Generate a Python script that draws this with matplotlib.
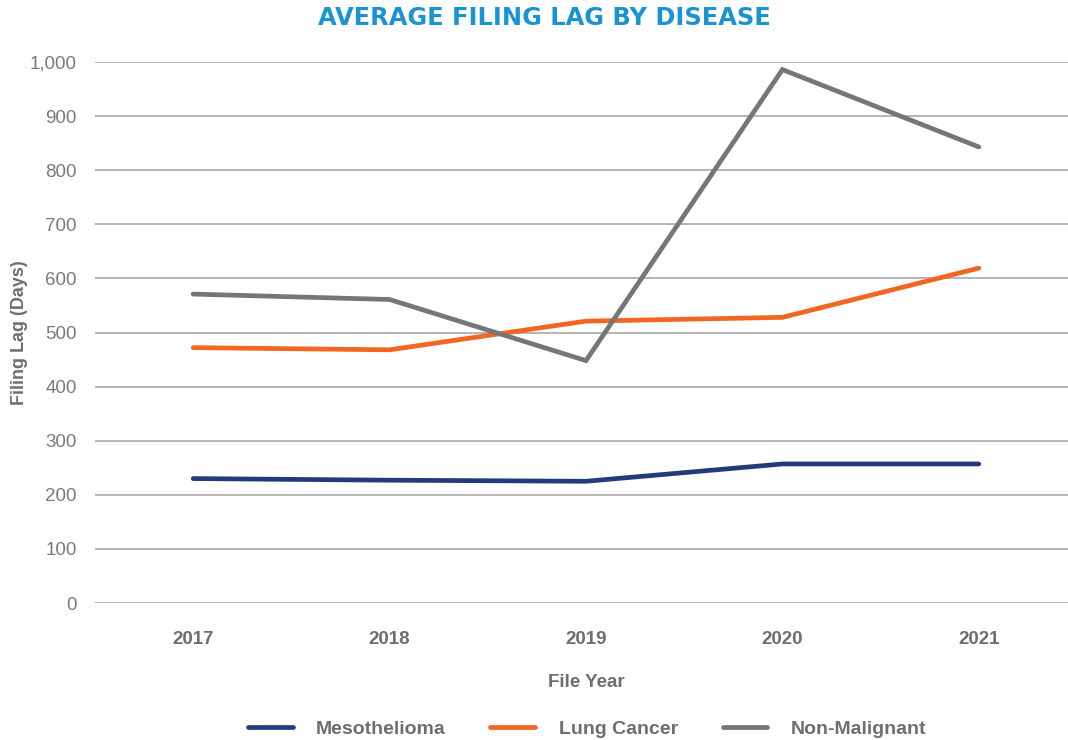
#!/usr/bin/env python3

import matplotlib
matplotlib.use("Agg")
import matplotlib.pyplot as plt
from matplotlib.ticker import FuncFormatter

plt.rc("font", family=["Liberation Sans", "DejaVu Sans"])

# Data
years = ["2017", "2018", "2019", "2020", "2021"]
mesothelioma = [230, 227, 225, 257, 257]
lung_cancer = [472, 468, 521, 528, 619]
non_malignant = [571, 561, 448, 986, 843]

series = [
	("Mesothelioma", mesothelioma, "#253a7c"),
	("Lung Cancer", lung_cancer, "#f26522"),
	("Non-Malignant", non_malignant, "#767676"),
]

fig = plt.figure(figsize=(10.68, 7.40), dpi=100)
ax = fig.add_axes([95 / 1068, 1 - 603 / 740, 982 / 1068, 541 / 740])

x = range(len(years))
for name, vals, color in series:
	ax.plot(x, vals, color=color, lw=3.4, solid_capstyle="round", solid_joinstyle="miter", label=name)

ax.set_xlim(-0.5, len(years) - 0.5)
ax.set_ylim(0, 1000)
ax.set_yticks(range(0, 1001, 100))
ax.yaxis.set_major_formatter(FuncFormatter(lambda v, p: f"{int(v):,}"))
ax.set_xticks(list(x))
ax.set_xticklabels(years, fontweight="bold")

ax.grid(axis="y", color="#a0a0a0", lw=1.1)
ax.set_axisbelow(True)
for s in ax.spines.values():
	s.set_visible(False)
ax.tick_params(axis="both", length=0, labelsize=13.5, colors="#7a7a7a")
ax.tick_params(axis="y", pad=13)
ax.tick_params(axis="x", pad=20, labelcolor="#6e6e6e")

ax.set_xlabel("File Year", fontsize=13.5, fontweight="bold", color="#6e6e6e", labelpad=19)
fig.text(20 / 1068, 1 - 333 / 740, "Filing Lag (Days)", rotation=90, ha="center", va="center",
	fontsize=13, fontweight="bold", color="#6e6e6e")

# title font is wider in the original, DejaVu bold is closer
fig.text(544 / 1068, 1 - 18 / 740, "AVERAGE FILING LAG BY DISEASE", family="DejaVu Sans",
	ha="center", va="center", fontsize=17.4, fontweight="bold", color="#1a93d4")

leg = fig.legend(loc="center", bbox_to_anchor=(587 / 1068, 1 - 729 / 740), ncol=3, frameon=False,
	fontsize=14, handlelength=2.3, handletextpad=1.2, columnspacing=2.3)
for t in leg.get_texts():
	t.set_fontweight("bold")
	t.set_color("#6e6e6e")

fig.savefig("out.png", dpi=100)
